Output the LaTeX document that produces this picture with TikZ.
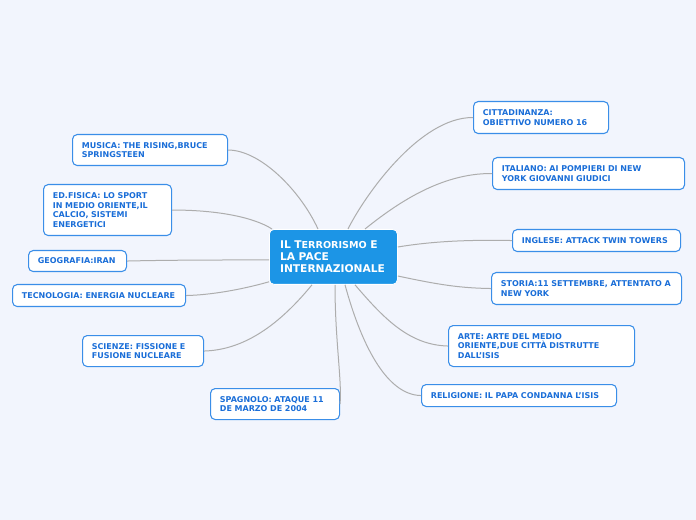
\documentclass[tikz,border=0pt]{standalone}
\usepackage{fontspec}
\setmainfont{DejaVu Sans}
\usetikzlibrary{calc}
\definecolor{bgc}{HTML}{F2F5FD}
\definecolor{bord}{HTML}{3A8EE8}
\definecolor{txt}{HTML}{1A6ED8}
\definecolor{mainfill}{HTML}{1C95E6}
\definecolor{linec}{HTML}{ADADAD}
\tikzset{
  leaf/.style={draw=bord, line width=0.8pt, fill=white, rounded corners=3.5pt,
    text=txt, font=\fontsize{6.0}{7.4}\selectfont\bfseries, align=left,
    inner xsep=7pt, inner ysep=0pt, anchor=north west},
  root/.style={draw=white, line width=0.6pt, fill=mainfill, rounded corners=3.5pt,
    text=white, font=\fontsize{8.0}{9}\selectfont\bfseries, align=left,
    inner xsep=8pt, inner ysep=0pt, anchor=north west},
  conn/.style={draw=linec, line width=0.75pt}
}
\newcommand{\bx}[7]{% name, x1, y1, x2, y2, style, text
  \node[#6, minimum width={(#4-#2)*0.75pt}, minimum height={(#5-#3)*0.75pt},
        text width={(#4-#2)*0.75pt-14pt}] (#1) at (#2,#3) {#7};}
\begin{document}
\begin{tikzpicture}[x=0.75pt,y=-0.75pt]
\fill[bgc] (0,0) rectangle (696,520);
\useasboundingbox (0,0) rectangle (696,520);
% root
\node[root, minimum width=96pt, minimum height=41.25pt, text width=80pt] (c) at (269,229)
  {IL T{\fontsize{7.2}{9}\selectfont ERRORISMO} E\\LA PACE\\INTERNAZIONALE};
% leaves
\bx{cit}{473}{101}{608}{133}{leaf}{CITTADINANZA:\\OBIETTIVO NUMERO 16}
\bx{ita}{492}{157}{684}{189}{leaf}{ITALIANO: AI POMPIERI DI NEW\\YORK GIOVANNI GIUDICI}
\bx{ing}{512}{229}{680}{251}{leaf}{INGLESE: ATTACK TWIN TOWERS}
\bx{sto}{491}{272}{681}{304}{leaf}{STORIA:11 SETTEMBRE, ATTENTATO A\\NEW YORK}
\bx{arte}{448}{325}{634}{366}{leaf}{ARTE: ARTE DEL MEDIO\\ORIENTE,DUE CITTÀ DISTRUTTE\\DALL'ISIS}
\bx{rel}{421}{384}{616}{406}{leaf}{RELIGIONE: IL PAPA CONDANNA L'ISIS}
\bx{spa}{210}{388}{339}{419}{leaf}{SPAGNOLO: ATAQUE 11\\DE MARZO DE 2004}
\bx{sci}{82}{335}{203}{366}{leaf}{SCIENZE: FISSIONE E\\FUSIONE NUCLEARE}
\bx{tec}{12}{284}{185}{306}{leaf}{TECNOLOGIA: ENERGIA NUCLEARE}
\bx{geo}{28}{250}{126}{271}{leaf}{GEOGRAFIA:IRAN}
\bx{edf}{43}{184}{171}{235}{leaf}{ED.FISICA: LO SPORT\\IN MEDIO ORIENTE,IL\\CALCIO, SISTEMI\\ENERGETICI}
\bx{mus}{72}{134}{227}{165}{leaf}{MUSICA: THE RISING,BRUCE\\SPRINGSTEEN}
% connectors
\draw[conn] ($(c.north west)+(79,0)$) .. controls (365,195) and (420,117) .. (cit.west);
\draw[conn] ($(c.north west)+(96,0)$) .. controls (395,205) and (440,173) .. (ita.west);
\draw[conn] ($(c.north east)+(0,18)$) .. controls (440,240) and (480,240) .. (ing.west);
\draw[conn] ($(c.north east)+(0,47)$) .. controls (440,285) and (460,288) .. (sto.west);
\draw[conn] ($(c.south west)+(86,0)$) .. controls (385,320) and (410,345) .. (arte.west);
\draw[conn] ($(c.south west)+(76,0)$) .. controls (360,340) and (385,395) .. (rel.west);
\draw[conn] ($(c.south west)+(66,0)$) .. controls (335,340) and (342,380) .. (spa.east);
\draw[conn] ($(c.south west)+(43,0)$) .. controls (275,330) and (240,350) .. (sci.east);
\draw[conn] ($(c.south west)+(0,-3)$) .. controls (240,290) and (210,295) .. (tec.east);
\draw[conn] ($(c.west)+(0,3)$) .. controls (220,260) and (170,260) .. (geo.east);
\draw[conn] ($(c.north west)+(3,0)$) .. controls (255,218) and (220,210) .. (edf.east);
\draw[conn] ($(c.north west)+(49,0)$) .. controls (300,190) and (260,150) .. (mus.east);
\end{tikzpicture}
\end{document}
